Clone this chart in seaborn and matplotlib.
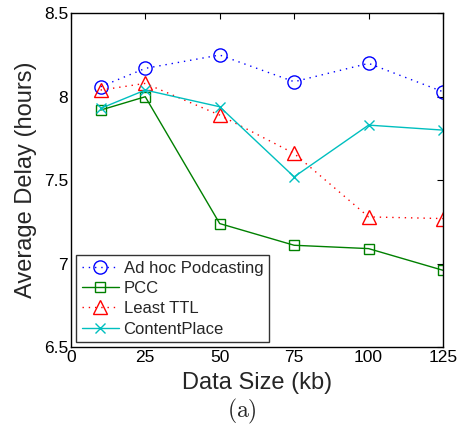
import matplotlib
matplotlib.use("Agg")
import matplotlib.pyplot as plt
import seaborn as sns
import pandas as pd

data_size = [10, 25, 50, 75, 100, 125]
adhoc = [8.06, 8.17, 8.25, 8.09, 8.20, 8.03]
pcc = [7.92, 8.00, 7.24, 7.11, 7.09, 6.96]
least_ttl = [8.04, 8.08, 7.89, 7.66, 7.28, 7.27]
contentplace = [7.93, 8.04, 7.94, 7.52, 7.83, 7.80]
series_names = ["Ad hoc Podcasting", "PCC", "Least TTL", "ContentPlace"]
x_ticks = [0, 25, 50, 75, 100, 125]
y_ticks = [6.5, 7, 7.5, 8, 8.5]
y_tick_labels = ["6.5", "7", "7.5", "8", "8.5"]

sns.set_style("white")
plt.rcParams["font.family"] = ["Liberation Sans", "DejaVu Sans"]
plt.rcParams["mathtext.fontset"] = "cm"

fig = plt.figure(figsize=(4.6, 4.29), dpi=100)
ax = fig.add_axes([0.154, 0.191, 0.809, 0.778])

styles = [
    dict(color=(0, 0, 1), marker="o", linestyle=(0, (1, 3.5)), ms=9.5),
    dict(color=(0, 0.5, 0), marker="s", linestyle="-", ms=7),
    dict(color=(1, 0, 0), marker="^", linestyle=(0, (1, 3.5)), ms=10.5),
    dict(color=(0, 0.75, 0.75), marker="x", linestyle="-", ms=7),
]
values = [adhoc, pcc, least_ttl, contentplace]

for name, vals, st in zip(series_names, values, styles):
    df = pd.DataFrame({"x": data_size, "y": vals})
    sns.lineplot(data=df, x="x", y="y", ax=ax, label=name,
                 color=st["color"], marker=st["marker"], linestyle=st["linestyle"],
                 markersize=st["ms"], markerfacecolor="none",
                 markeredgecolor=st["color"], markeredgewidth=1.0, linewidth=1.0)

ax.set_xlim(0, 125)
ax.set_ylim(6.5, 8.5)
ax.set_xticks(x_ticks)
ax.set_xticklabels([str(t) for t in x_ticks])
ax.set_yticks(y_ticks)
ax.set_yticklabels(y_tick_labels)
ax.tick_params(direction="in", top=True, right=True, length=4, width=0.8,
               labelsize=12.5, colors="black", pad=2)
for s in ax.spines.values():
    s.set_color("black")
    s.set_linewidth(1.0)

ax.set_xlabel("Data Size (kb)", fontsize=17, labelpad=5)
ax.set_ylabel("Average Delay (hours)", fontsize=17, labelpad=5)

leg = ax.legend(loc="lower left", bbox_to_anchor=(0.014, 0.014), fontsize=12,
                frameon=True, fancybox=False, edgecolor="black",
                borderpad=0.35, labelspacing=0.32, handlelength=2.2,
                handletextpad=0.3, borderaxespad=0)
leg.get_frame().set_linewidth(1.0)

fig.text(0.526, 0.042, r"$\mathrm{(a)}$", ha="center", va="center", fontsize=17)

fig.savefig("out.png", dpi=100)
